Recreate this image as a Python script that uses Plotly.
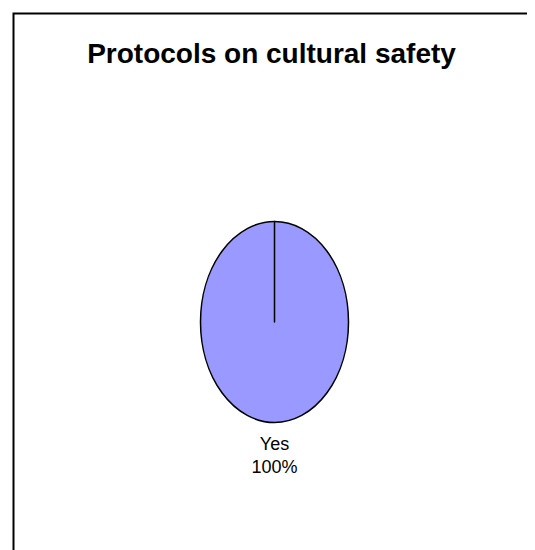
import plotly.graph_objects as go

# ---- data ----
labels = ["Yes", "No"]
values = [100, 0]
title_text = "Protocols on cultural safety"

# ---- style ----
FONT = "Liberation Sans Narrow, Arial Narrow, Liberation Sans, Arial, sans-serif"
W, H = 535, 550
ASPECT = 201 / 148  # vertical stretch of the (Excel-style elliptical) pie
LABEL_GAP = 11      # px between ellipse bottom and label box

fig = go.Figure()
fig.add_trace(go.Pie(
    labels=labels,
    values=values,
    sort=False,
    direction="clockwise",
    rotation=0,
    marker=dict(colors=["#9999FF", "#9999FF"], line=dict(color="black", width=1.5)),
    textinfo="label+percent",
    textposition=["outside", "none"],
    textfont=dict(family=FONT, size=18, color="black"),
    showlegend=False,
    hoverinfo="label+percent",
    domain=dict(x=[192.5 / W, 340.5 / W], y=[1 - 394 / H, 1 - 234 / H]),
))

fig.update_layout(
    width=W, height=H,
    margin=dict(l=0, r=0, t=0, b=0),
    paper_bgcolor="white",
    plot_bgcolor="white",
    title=dict(
        text="<b>" + title_text + "</b>",
        x=263.5 / W, xanchor="center",
        y=1 - 45 / H, yanchor="middle",
        font=dict(family=FONT, size=28, color="black"),
    ),
    shapes=[dict(
        type="rect", xref="paper", yref="paper",
        x0=5.5 / W, x1=1.05, y0=-0.05, y1=1 - 5.5 / H,
        line=dict(color="black", width=2), fillcolor="rgba(0,0,0,0)",
        layer="below",
    )],
)

post = """
var gd = document.getElementById('{plot_id}');
var k = %f, gap = %f;
var cd0 = gd.calcdata[0][0];
var cx = cd0.cx, cy = cd0.cy, r = cd0.r;
gd.querySelectorAll('g.pielayer path.surface').forEach(function(p){
  p.setAttribute('transform', 'translate(0,' + (cy*(1-k)) + ') scale(1,' + k + ')');
  p.style.vectorEffect = 'non-scaling-stroke';
});
var g = gd.getBoundingClientRect();
gd.querySelectorAll('g.pielayer g.slicetext').forEach(function(t){
  var b = t.getBoundingClientRect();
  var bx = (b.left + b.right) / 2 - g.left;
  var by = b.top - g.top;
  var dx = cx - bx, dy = (cy + r*k + gap) - by;
  var tr = t.getAttribute('transform') || '';
  t.setAttribute('transform', 'translate(' + dx + ',' + dy + ') ' + tr);
});
""" % (ASPECT, LABEL_GAP)

fig.write_html("out.html", post_script=post)
